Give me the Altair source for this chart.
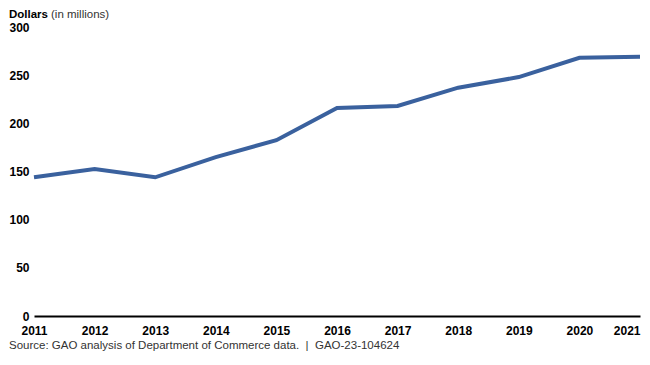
import altair as alt
import pandas as pd

years = [2011, 2012, 2013, 2014, 2015, 2016, 2017, 2018, 2019, 2020, 2021]
dollars = [144, 152.5, 144, 165, 182.5, 216, 218, 237, 248, 268, 269]
y_ticks = [0, 50, 100, 150, 200, 250, 300]
title_bold = "Dollars"
title_rest = "(in millions)"
source_note = "Source: GAO analysis of Department of Commerce data.\u00a0\u00a0|\u00a0\u00a0GAO-23-104624"

df = pd.DataFrame({"year": [str(y) for y in years], "dollars": dollars})

W, H = 606, 289
FONT = "Liberation Sans"

line = alt.Chart(df).mark_line(color="#3a619e", strokeWidth=4).encode(
    x=alt.X(
        "year:O",
        scale=alt.Scale(type="point", padding=0),
        axis=alt.Axis(
            title=None, labelAngle=0, ticks=False, grid=False,
            domainColor="black", domainWidth=2,
            labelFontWeight="bold", labelFontSize=12, labelColor="black",
            labelPadding=9,
            labelAlign={"expr": "datum.label == '2021' ? 'right' : 'center'"},
        ),
    ),
    y=alt.Y(
        "dollars:Q",
        scale=alt.Scale(domain=[0, 300], nice=False),
        axis=alt.Axis(
            title=None, values=y_ticks, ticks=False, domain=False, grid=False,
            labelFontWeight="bold", labelFontSize=12, labelColor="black",
            labelPadding=5,
        ),
    ),
)

t1 = alt.Chart(pd.DataFrame({"t": [title_bold]})).mark_text(
    align="left", baseline="middle", fontWeight="bold", fontSize=11.5, color="black", font=FONT
).encode(text="t:N", x=alt.value(-25), y=alt.value(-12))

t2 = alt.Chart(pd.DataFrame({"t": [title_rest]})).mark_text(
    align="left", baseline="middle", fontSize=11.5, color="#333333", font=FONT
).encode(text="t:N", x=alt.value(17), y=alt.value(-12))

src = alt.Chart(pd.DataFrame({"t": [source_note]})).mark_text(
    align="left", baseline="middle", fontSize=11.5, color="#333333", font=FONT
).encode(text="t:N", x=alt.value(-25), y=alt.value(H + 30))

chart = alt.layer(line, t1, t2, src).properties(
    width=W, height=H,
    autosize=alt.AutoSizeParams(type="none"),
    padding={"left": 26, "top": 19, "right": 2, "bottom": 36},
).configure(font=FONT).configure_view(stroke=None)

chart.save("out.html", embed_options={"renderer": "svg", "actions": False})
